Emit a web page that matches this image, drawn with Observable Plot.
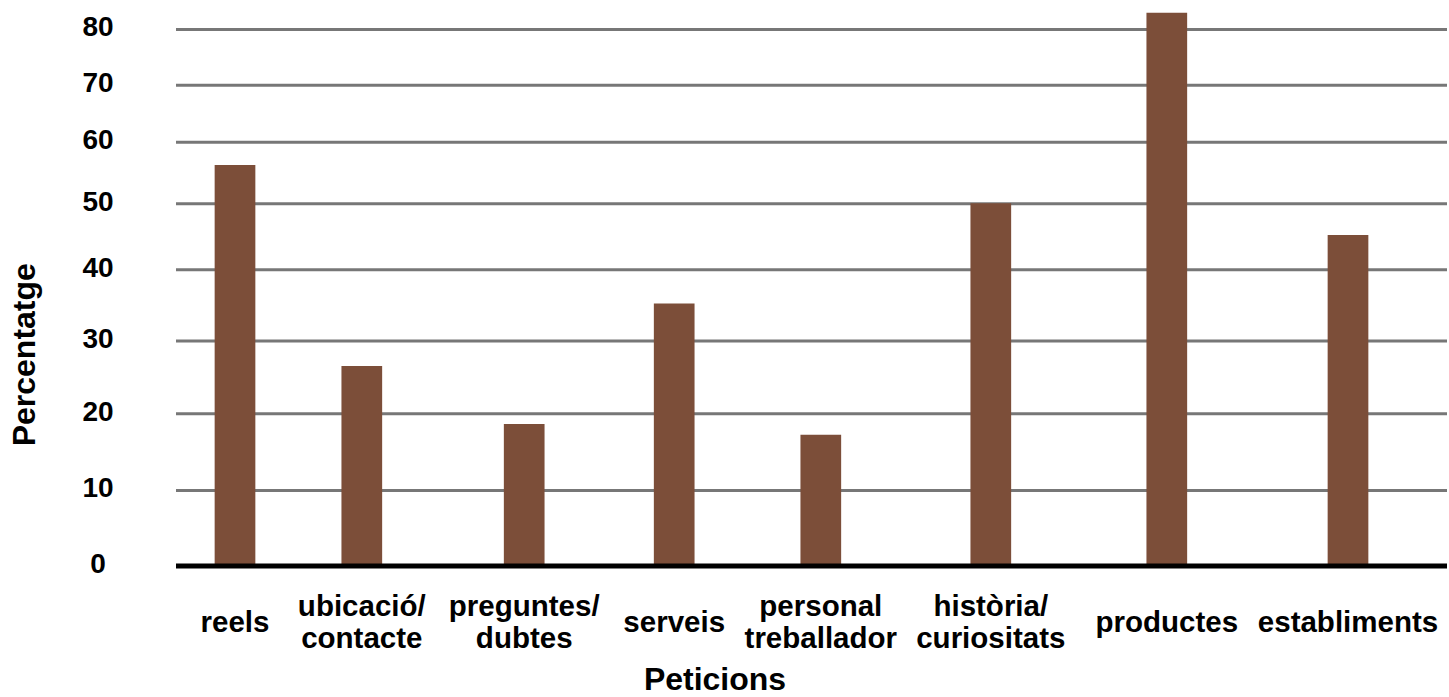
<!DOCTYPE html>
<html>
<head>
<meta charset="utf-8">
<script src="https://cdn.jsdelivr.net/npm/d3@7"></script>
<script src="https://cdn.jsdelivr.net/npm/@observablehq/plot@0.6"></script>
<style>
  html, body { margin: 0; padding: 0; background: #ffffff; }
  #chart svg { display: block; }
</style>
</head>
<body>
<div id="chart"></div>
<script>
// Categories (x) and series values (percentatge)
const categories = ["reels", "ubicació/\ncontacte", "preguntes/\ndubtes", "serveis", "personal\ntreballador", "història/\ncuriositats", "productes", "establiments"];
const values = [56.2, 26.5, 18.6, 35.2, 17.2, 50.0, 82.9, 45.2];
// Y tick labels
const yTicks = [0, 10, 20, 30, 40, 50, 60, 70, 80];

const data = categories.map((c, i) => ({i, label: c, value: values[i]}));

// The reference's axes are unevenly spaced: piecewise-linear scales reproduce them.
const xRange = [234.5, 361.3, 523.7, 673.7, 820.3, 990.3, 1166.3, 1347.5];
const yRange = [565.5, 490, 413.3, 340.5, 269.2, 203.2, 141.7, 84.7, 29];

const font = "'Liberation Sans', Arial, Helvetica, sans-serif";
const brown = "#7c4e39";

const chart = Plot.plot({
  width: 1449,
  height: 697,
  marginTop: 29,
  marginBottom: 131.5,
  marginLeft: 176,
  marginRight: 2,
  style: {fontFamily: font, background: "#ffffff", color: "#000"},
  x: {type: "linear", domain: categories.map((c, i) => i), range: xRange, axis: null},
  y: {type: "linear", domain: yTicks, range: yRange, axis: null},
  marks: [
    // gridlines
    Plot.ruleY(yTicks.filter(d => d > 0), {stroke: "#777777", strokeWidth: 3}),
    // bars
    Plot.ruleX(data, {x: "i", y1: 0, y2: "value", stroke: brown, strokeWidth: 40.7}),
    // baseline
    Plot.ruleY([0], {stroke: "#000000", strokeWidth: 5}),
    // y tick labels
    Plot.text(yTicks, {y: d => d, text: d => String(d), frameAnchor: "left", dx: -78.5, dy: -2,
      textAnchor: "middle", lineAnchor: "middle", fontSize: 28, fontWeight: "bold", fill: "#000"}),
    // x tick labels
    Plot.text(data, {x: "i", text: "label", frameAnchor: "bottom", dy: 56,
      textAnchor: "middle", lineAnchor: "middle", lineHeight: 1.08, fontSize: 29.5, fontWeight: "bold", fill: "#000"}),
    // y axis title
    Plot.text(["Percentatge"], {frameAnchor: "left", dx: 24 - 176, dy: 57, rotate: -90,
      textAnchor: "middle", lineAnchor: "middle", fontSize: 32, fontWeight: "bold", fill: "#000"}),
    // x axis title
    Plot.text(["Peticions"], {frameAnchor: "bottom", dx: -97, dy: 124,
      textAnchor: "middle", lineAnchor: "bottom", fontSize: 32, fontWeight: "bold", fill: "#000"})
  ]
});

document.getElementById("chart").appendChild(chart);
</script>
</body>
</html>
